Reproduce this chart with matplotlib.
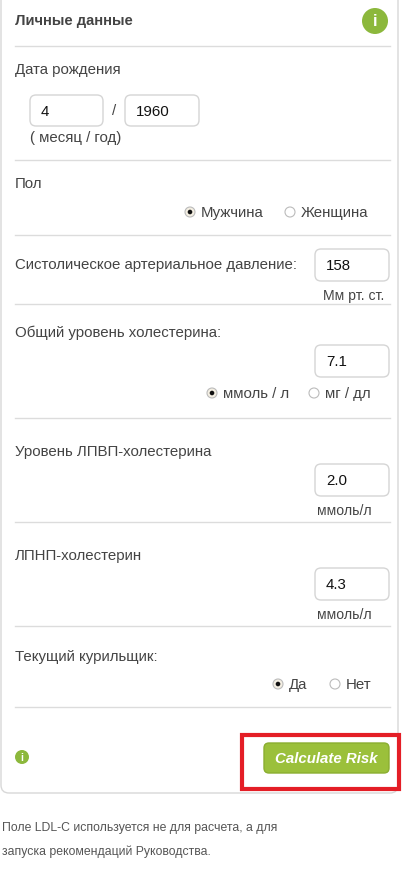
import matplotlib
matplotlib.use("Agg")
import matplotlib.pyplot as plt
from matplotlib.patches import FancyBboxPatch, Circle, Rectangle

plt.rcParams['font.family'] = ['Liberation Sans', 'DejaVu Sans']

title = "Личные данные"
labels = ["Дата рождения", "Пол", "Систолическое артериальное давление:",
          "Общий уровень холестерина:", "Уровень ЛПВП-холестерина",
          "ЛПНП-холестерин", "Текущий курильщик:"]
label_y = [70, 184, 265, 333, 452, 556, 657]
sep_y = [46, 160, 235, 304, 418, 522, 626, 707]
month, year = "4", "1960"
values = ["158", "7.1", "2.0", "4.3"]
value_y = [265, 361, 480, 584]
units = ["Мм рт. ст.", None, "ммоль/л", "ммоль/л"]
radios = [(190, 212, True, "Мужчина"), (290, 212, False, "Женщина"),
          (212, 393, True, "ммоль / л"), (314, 393, False, "мг / дл"),
          (278, 684, True, "Да"), (335, 684, False, "Нет")]
button = "Calculate Risk"
footer = ["Поле LDL-C используется не для расчета, а для",
          "запуска рекомендаций Руководства."]

fig = plt.figure(figsize=(4.06, 8.71), dpi=100)
ax = fig.add_axes([0, 0, 1, 1])
ax.set_xlim(0, 406); ax.set_ylim(871, 0); ax.axis('off')
PT = 0.72
TXT = '#444444'
F = 15

ax.add_patch(FancyBboxPatch((1, -20), 397, 813, boxstyle="round,pad=0,rounding_size=8",
                            fc='white', ec='#d8d8d8', lw=1))
ax.text(15, 21, title, fontsize=14.8*PT, fontweight='bold', color='#444', va='center')
ax.add_patch(Circle((375, 21), 13, fc='#8cb83c', ec='none'))
ax.text(375, 22, "i", fontsize=16*PT, fontweight='bold', color='white', ha='center', va='center')

for y in sep_y:
    ax.plot([15, 390], [y, y], color='#dcdcdc', lw=1)
for t, y in zip(labels, label_y):
    ax.text(15, y, t, fontsize=F*PT, color=TXT, va='center')

def box(x0, y0, x1, y1, txt):
    ax.add_patch(FancyBboxPatch((x0, y0), x1-x0, y1-y0, boxstyle="round,pad=0,rounding_size=6",
                                fc='white', ec='#d5d5d5', lw=1))
    ax.text(x0+11, (y0+y1)/2+1, txt, fontsize=F*PT, color='#111', va='center')

box(30, 95, 103, 126, month)
ax.text(114, 111, "/", fontsize=F*PT, color=TXT, ha='center', va='center')
box(125, 95, 199, 126, year)
ax.text(30, 138, "( месяц / год)", fontsize=F*PT, color=TXT, va='center')

for v, y, u in zip(values, value_y, units):
    box(315, y-16, 389, y+16, v)
    if u:
        ax.text(372 if u != "Мм рт. ст." else 384, y+31, u, fontsize=14*PT, color=TXT, ha='right', va='center')

for x, y, on, t in radios:
    ax.add_patch(Circle((x, y), 5, fc='#f4efe3' if on else 'white', ec='#bbbbbb', lw=0.8))
    if on:
        ax.add_patch(Circle((x, y), 2.3, fc='#111', ec='none'))
    ax.text(x+11, y+1, t, fontsize=F*PT, color=TXT, va='center')

ax.add_patch(Circle((22, 757), 7, fc='#8cb83c', ec='none'))
ax.text(22, 758, "i", fontsize=10*PT, fontweight='bold', color='white', ha='center', va='center')

ax.add_patch(Rectangle((242, 735), 157, 54, fc='none', ec='#e41e26', lw=3))
ax.add_patch(FancyBboxPatch((264, 743), 125, 30, boxstyle="round,pad=0,rounding_size=5",
                            fc='#9bc03b', ec='#8aae30', lw=1))
ax.text(326.5, 759, button, fontsize=15*PT, fontweight='bold', fontstyle='italic',
        color='white', ha='center', va='center')

for t, y in zip(footer, [828, 852]):
    ax.text(2, y, t, fontsize=12.2*PT, color='#555', va='center')

fig.savefig("out.png", dpi=100)
